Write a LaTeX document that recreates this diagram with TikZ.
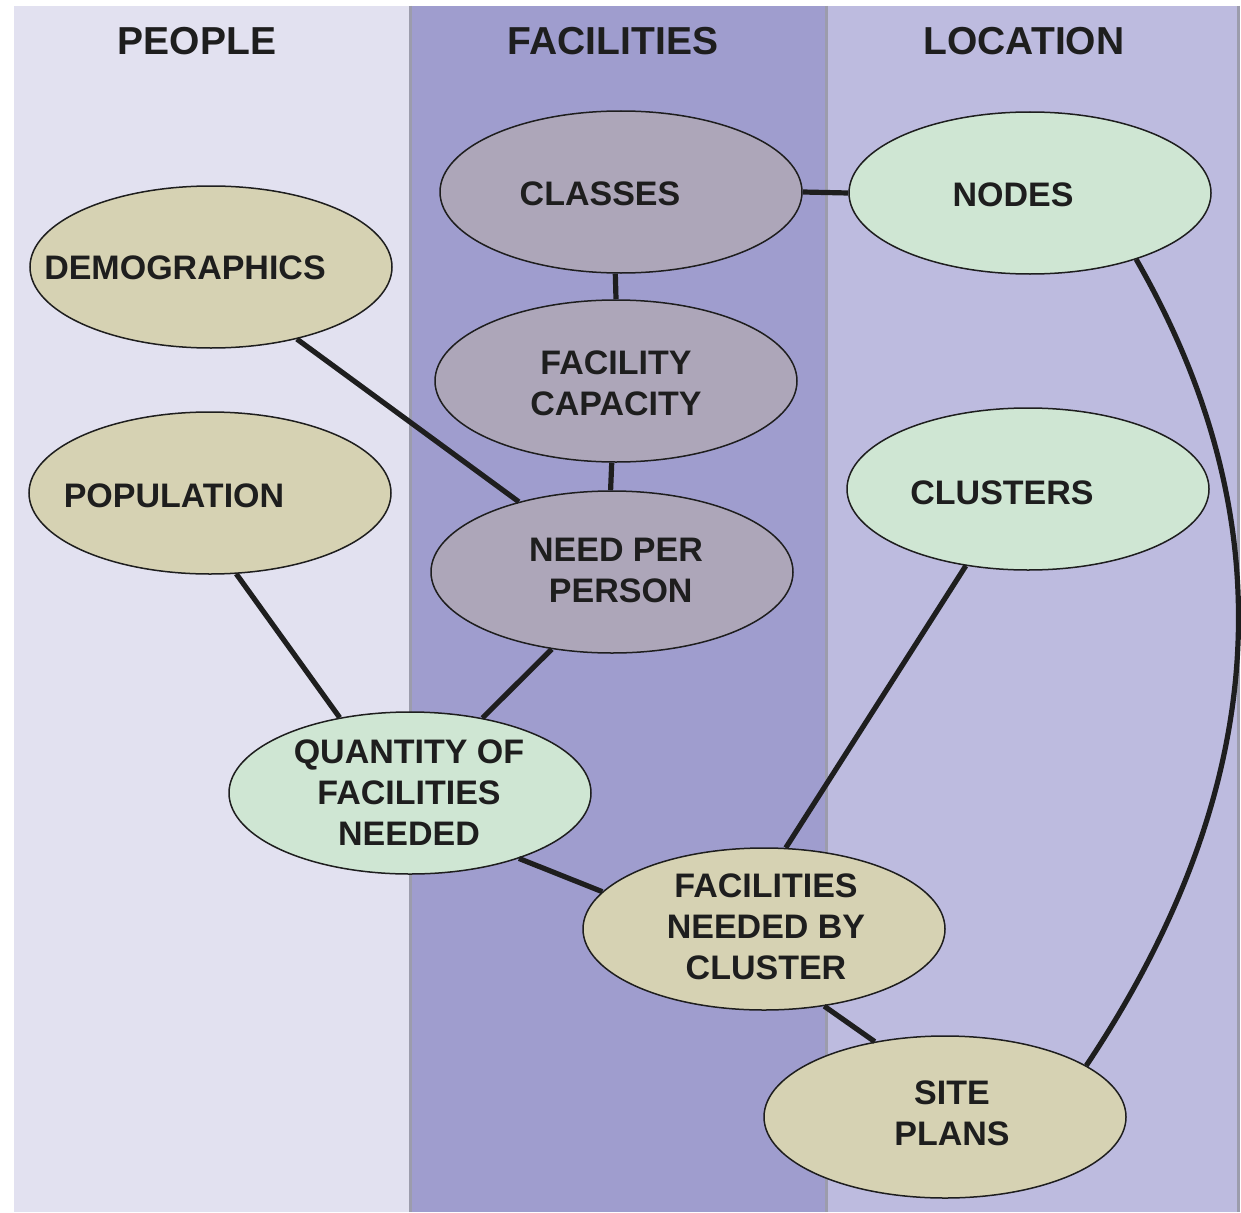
\documentclass[tikz,border=0pt]{standalone}
\usepackage{fontspec}
\setmainfont{Liberation Sans}
\usetikzlibrary{shapes.geometric}
\definecolor{panelL}{HTML}{E2E1F0}
\definecolor{panelM}{HTML}{9F9DCE}
\definecolor{panelR}{HTML}{BDBBDF}
\definecolor{divider}{HTML}{9C9CAC}
\definecolor{tanfill}{HTML}{D6D2B3}
\definecolor{mauvefill}{HTML}{ADA6B9}
\definecolor{greenfill}{HTML}{CFE6D3}
\definecolor{inkc}{HTML}{1E1E1E}
\tikzset{
  oval/.style={ellipse, draw=inkc, line width=1.5pt, minimum width=362pt, minimum height=162pt, inner sep=0pt},
  tanoval/.style={oval, fill=tanfill},
  mauveoval/.style={oval, fill=mauvefill},
  greenoval/.style={oval, fill=greenfill},
  lbl/.style={text=inkc, font=\bfseries\fontsize{34}{41}\selectfont, align=center, inner sep=0pt},
  header/.style={text=inkc, font=\bfseries\fontsize{39}{44}\selectfont, inner sep=0pt},
  link/.style={draw=inkc, line width=5.2pt},
  divline/.style={draw=divider, line width=3pt}
}
\begin{document}
\begin{tikzpicture}[x=1pt,y=-1pt]
\useasboundingbox (0,0) rectangle (1241,1212);
\fill[white] (0,0) rectangle (1241,1212);
% panels
\fill[panelL] (14,6) rectangle (410,1212);
\fill[panelM] (410,6) rectangle (826,1212);
\fill[panelR] (826,6) rectangle (1238,1212);
\draw[divline] (410,6) -- (410,1212);
\draw[divline] (826,6) -- (826,1212);
\draw[divline] (1238,6) -- (1238,1212);
% headers
\node[header] (hpeople) at (197,41) {PEOPLE};
\node[header] (hfac) at (613,41) {FACILITIES};
\node[header] (hloc) at (1024,41) {LOCATION};
% ellipses
\node[mauveoval] (classes) at (621,192) {};
\node[greenoval] (nodes) at (1030,193) {};
\node[tanoval] (demo) at (211,267) {};
\node[mauveoval] (faccap) at (616,381) {};
\node[tanoval] (pop) at (210,493) {};
\node[greenoval] (clusters) at (1028,489) {};
\node[mauveoval] (need) at (612,572) {};
\node[greenoval] (qty) at (410,793) {};
\node[tanoval] (fnbc) at (764,929) {};
\node[tanoval] (site) at (945,1117) {};
% labels
\node[lbl] (tclasses) at (600,194) {CLASSES};
\node[lbl] (tnodes) at (1013,195) {NODES};
\node[lbl] (tdemo) at (185,268) {DEMOGRAPHICS};
\node[lbl] (tfaccap) at (616,383) {FACILITY\\CAPACITY};
\node[lbl] (tpop) at (174,496) {POPULATION};
\node[lbl] (tclusters) at (1002,493) {CLUSTERS};
\node[lbl] (tneed) at (616,570) {NEED PER\\\ PERSON};
\node[lbl] (tqty) at (409,793) {QUANTITY OF\\FACILITIES\\NEEDED};
\node[lbl] (tfnbc) at (766,927) {FACILITIES\\NEEDED BY\\CLUSTER};
\node[lbl] (tsite) at (952,1113) {SITE\\PLANS};
% connectors
\draw[link] (classes.east) -- (nodes.west);
\draw[link] (classes.-94) -- (faccap.north);
\draw[link] (faccap.-93) -- (need.91);
\draw[link] (demo.-40) -- (need.143);
\draw[link] (pop.-72) -- (qty.133);
\draw[link] (need.-128) -- (qty.46);
\draw[link] (qty.-31) -- (fnbc.167);
\draw[link] (clusters.-129) -- (fnbc.75);
\draw[link] (fnbc.-52) -- (site.133);
\draw[link] (nodes.-32) .. controls (1280,510) and (1280,775) .. (site.20);
\end{tikzpicture}
\end{document}
